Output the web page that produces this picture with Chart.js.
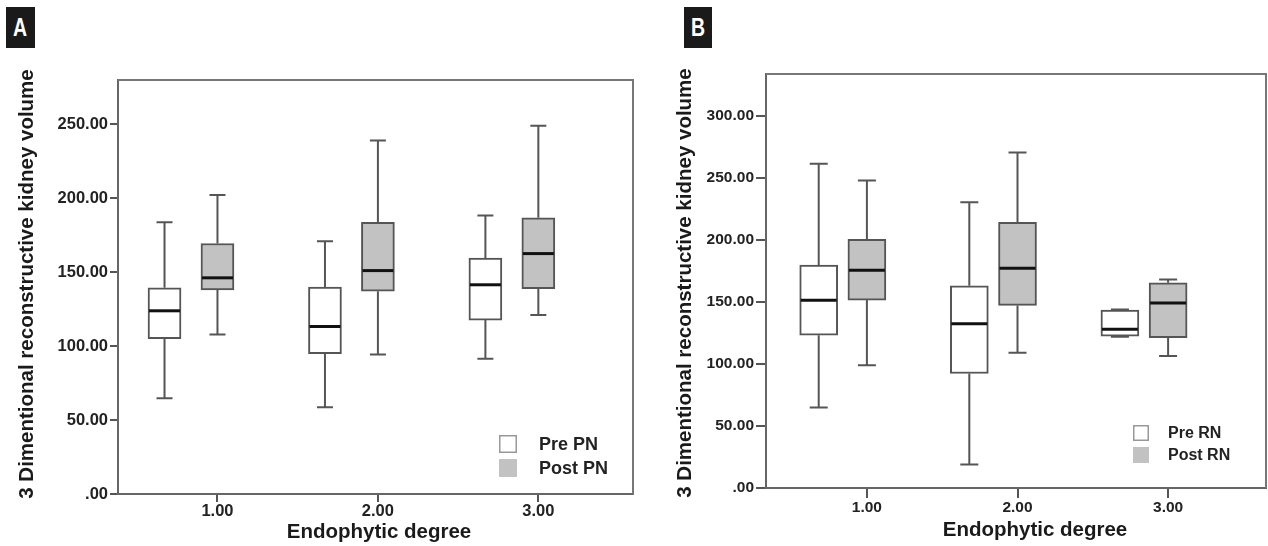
<!DOCTYPE html>
<html lang="en">
<head>
  <meta charset="UTF-8" />
  <title>Kidney volume box plots</title>
  <script src="https://cdn.jsdelivr.net/npm/chart.js"></script>
  <style>
    body {
      margin: 0;
      background: white;
      width: 1268px;
      height: 546px;
      position: relative;
      overflow: hidden;
      font-family: "Liberation Sans", Arial, sans-serif;
    }
    canvas { position: absolute; top: 0; }
    #chartA { left: 0; }
    #chartB { left: 640px; }
    .tag {
      position: absolute;
      top: 7px;
      height: 41px;
      background: #1a1a1a;
      color: white;
      font-weight: bold;
      font-size: 25px;
      line-height: 41px;
      text-align: center;
    }
    .tag span { display: inline-block; transform: scaleX(0.78); }
  </style>
</head>
<body>
  <div class="tag" style="left:6px;width:29px"><span>A</span></div>
  <div class="tag" style="left:684px;width:28px"><span>B</span></div>
  <canvas id="chartA" width="640" height="546"></canvas>
  <canvas id="chartB" width="628" height="546"></canvas>

  <script>
    // categories (endophytic degree)
    const groups = [1, 2, 3];

    // Panel A: partial nephrectomy
    const prePN_min  = [64.7, 58.6, 91.5];
    const prePN_q1   = [105.0, 94.9, 117.6];
    const prePN_med  = [123.9, 113.3, 141.5];
    const prePN_q3   = [139.5, 139.9, 159.5];
    const prePN_max  = [183.8, 171.0, 188.3];
    const postPN_min = [107.9, 94.4, 121.0];
    const postPN_q1  = [138.1, 137.2, 138.8];
    const postPN_med = [146.2, 151.1, 162.6];
    const postPN_q3  = [169.4, 183.8, 186.8];
    const postPN_max = [202.3, 239.0, 249.1];

    // Panel B: radical nephrectomy
    const preRN_min  = [64.9, 18.9, 122.0];
    const preRN_q1   = [123.3, 92.4, 122.5];
    const preRN_med  = [151.4, 132.5, 128.0];
    const preRN_q3   = [179.9, 163.2, 143.5];
    const preRN_max  = [261.5, 230.5, 144.0];
    const postRN_min = [99.1, 109.1, 106.4];
    const postRN_q1  = [151.6, 147.3, 121.2];
    const postRN_med = [175.6, 177.2, 149.2];
    const postRN_q3  = [200.6, 214.4, 165.6];
    const postRN_max = [248.0, 270.6, 168.3];

    const yTicksA = [0, 50, 100, 150, 200, 250];
    const yTicksB = [0, 50, 100, 150, 200, 250, 300];

    const yTitle = '3 Dimentional reconstructive kidney volume';
    const xTitle = 'Endophytic degree';

    const FONT = '"Liberation Sans", Arial, sans-serif';
    Chart.defaults.font.family = FONT;
    Chart.defaults.color = '#222';

    const LINE = '#555';
    const FILL = '#c2c2c2';

    // whiskers, caps, medians, frame, axis titles and legend
    const boxPlugin = {
      id: 'boxes',
      beforeDatasetsDraw(chart, args, o) {
        const { ctx } = chart;
        const y = chart.scales.y;
        ctx.save();
        ctx.strokeStyle = LINE;
        ctx.lineWidth = 2;
        chart.data.datasets.forEach((ds, i) => {
          chart.getDatasetMeta(i).data.forEach((bar, j) => {
            const top = y.getPixelForValue(ds.hi[j]);
            const bot = y.getPixelForValue(ds.lo[j]);
            const q1 = y.getPixelForValue(ds.data[j].y[0]);
            const q3 = y.getPixelForValue(ds.data[j].y[1]);
            ctx.beginPath();
            ctx.moveTo(bar.x, q3); ctx.lineTo(bar.x, top);
            ctx.moveTo(bar.x - o.cap, top); ctx.lineTo(bar.x + o.cap, top);
            ctx.moveTo(bar.x, q1); ctx.lineTo(bar.x, bot);
            ctx.moveTo(bar.x - o.cap, bot); ctx.lineTo(bar.x + o.cap, bot);
            ctx.stroke();
          });
        });
        ctx.restore();
      },
      afterDatasetsDraw(chart) {
        const { ctx } = chart;
        const y = chart.scales.y;
        ctx.save();
        ctx.strokeStyle = '#111';
        ctx.lineWidth = 3;
        chart.data.datasets.forEach((ds, i) => {
          chart.getDatasetMeta(i).data.forEach((bar, j) => {
            const m = y.getPixelForValue(ds.med[j]);
            ctx.beginPath();
            ctx.moveTo(bar.x - bar.width / 2 + 1, m);
            ctx.lineTo(bar.x + bar.width / 2 - 1, m);
            ctx.stroke();
          });
        });
        ctx.restore();
      },
      afterDraw(chart, args, o) {
        const { ctx, chartArea: a } = chart;
        ctx.save();
        ctx.strokeStyle = '#777';
        ctx.lineWidth = 2;
        ctx.beginPath();
        ctx.moveTo(a.left, a.top); ctx.lineTo(a.right, a.top); ctx.lineTo(a.right, a.bottom);
        ctx.stroke();

        // axis titles
        ctx.fillStyle = '#1a1a1a';
        ctx.font = 'bold ' + o.titleFont + 'px ' + FONT;
        ctx.textAlign = 'center';
        ctx.textBaseline = 'middle';
        ctx.fillText(xTitle, o.xTitle[0], o.xTitle[1]);
        ctx.save();
        ctx.translate(o.yTitle[0], o.yTitle[1]);
        ctx.rotate(-Math.PI / 2);
        ctx.fillText(yTitle, 0, 0);
        ctx.restore();

        // legend
        const L = o.legend;
        ctx.font = 'bold ' + L.font + 'px ' + FONT;
        ctx.textAlign = 'left';
        chart.data.datasets.forEach((ds, i) => {
          const sy = L.y + i * L.gap;
          ctx.fillStyle = ds.backgroundColor;
          ctx.fillRect(L.x, sy, L.size, L.size);
          if (ds.backgroundColor === 'white') {
            ctx.strokeStyle = '#999';
            ctx.lineWidth = 1.5;
            ctx.strokeRect(L.x + 0.75, sy + 0.75, L.size - 1.5, L.size - 1.5);
          }
          ctx.fillStyle = '#222';
          ctx.fillText(ds.label, L.tx, sy + L.size / 2 + 1);
        });
        ctx.restore();
      }
    };

    function series(label, fill, offset, lo, q1, med, q3, hi, thick) {
      return {
        label,
        data: groups.map((g, i) => ({ x: g + offset, y: [q1[i], q3[i]] })),
        lo, med, hi,
        backgroundColor: fill,
        borderColor: LINE,
        borderWidth: 2,
        borderSkipped: false,
        barThickness: thick,
        grouped: false
      };
    }

    function makeChart(id, c) {
      return new Chart(document.getElementById(id), {
        type: 'bar',
        data: { datasets: c.datasets },
        plugins: [boxPlugin],
        options: {
          responsive: false,
          animation: false,
          events: [],
          layout: { padding: c.padding },
          plugins: {
            legend: { display: false },
            tooltip: { enabled: false },
            boxes: { cap: c.cap, legend: c.legend, titleFont: 20.5, xTitle: c.xTitle, yTitle: c.yTitle }
          },
          scales: {
            x: {
              type: 'linear',
              min: c.xMin, max: c.xMax,
              offset: false,
              afterBuildTicks: s => { s.ticks = groups.map(v => ({ value: v })); },
              afterFit: s => { s.height = c.xAxisH; },
              ticks: {
                padding: 0,
                font: { size: c.tickFont, weight: 'bold' },
                callback: v => v.toFixed(2)
              },
              grid: { offset: false, drawOnChartArea: false, tickLength: c.tickLen, color: LINE, lineWidth: 2 },
              border: { color: '#666', width: 2 }
            },
            y: {
              min: 0, max: c.yMax,
              afterBuildTicks: s => { s.ticks = c.yTicks.map(v => ({ value: v })); },
              afterFit: s => { s.width = c.yAxisW; },
              ticks: {
                padding: 2,
                font: { size: c.tickFont, weight: 'bold' },
                callback: v => v === 0 ? '.00' : v.toFixed(2)
              },
              grid: { drawOnChartArea: false, tickLength: c.tickLen, color: LINE, lineWidth: 2 },
              border: { color: '#666', width: 2 }
            }
          }
        }
      });
    }

    makeChart('chartA', {
      datasets: [
        series('Pre PN', 'white', -0.33, prePN_min, prePN_q1, prePN_med, prePN_q3, prePN_max, 33),
        series('Post PN', FILL, 0, postPN_min, postPN_q1, postPN_med, postPN_q3, postPN_max, 33)
      ],
      padding: { left: 15, right: 7, top: 80, bottom: 2 },
      yAxisW: 103, xAxisH: 50, tickLen: 8, tickFont: 16.5,
      xMin: 0.38, xMax: 3.59, yMax: 280, yTicks: yTicksA, cap: 8,
      xTitle: [379, 532], yTitle: [27, 284],
      legend: { x: 499, y: 435, size: 18, gap: 24, tx: 539, font: 18 }
    });

    makeChart('chartB', {
      datasets: [
        series('Pre RN', 'white', -0.32, preRN_min, preRN_q1, preRN_med, preRN_q3, preRN_max, 38),
        series('Post RN', FILL, 0, postRN_min, postRN_q1, postRN_med, postRN_q3, postRN_max, 38)
      ],
      padding: { left: 33, right: 2, top: 74, bottom: 4 },
      yAxisW: 93, xAxisH: 54, tickLen: 10, tickFont: 15.5,
      xMin: 0.33, xMax: 3.65, yMax: 334, yTicks: yTicksB, cap: 9,
      xTitle: [395, 530], yTitle: [45, 283],
      legend: { x: 493, y: 425, size: 16, gap: 22, tx: 528, font: 16 }
    });
  </script>
</body>
</html>
